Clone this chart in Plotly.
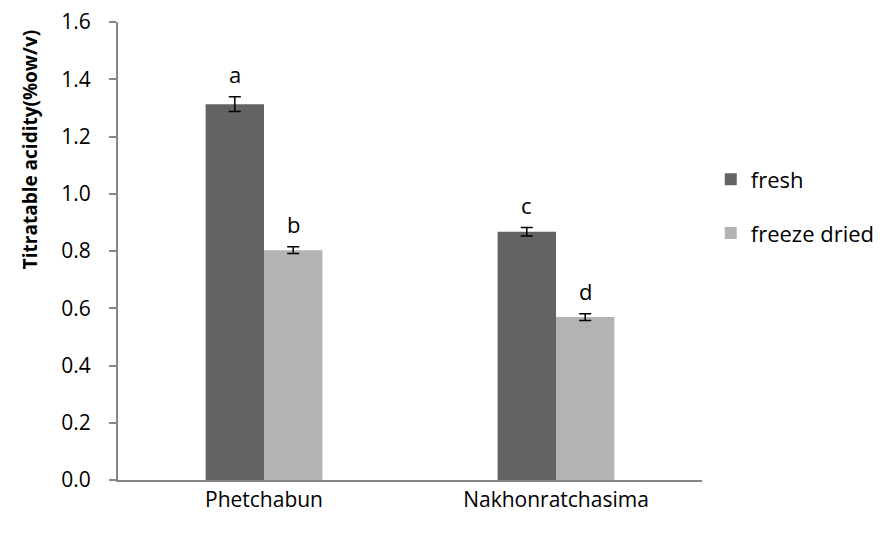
import plotly.graph_objects as go

categories = ["Phetchabun", "Nakhonratchasima"]
fresh = [1.313, 0.867]
fresh_err = [0.026, 0.015]
freeze_dried = [0.803, 0.569]
freeze_err = [0.012, 0.012]
fresh_letters = ["a", "c"]
freeze_letters = ["b", "d"]
y_title = "Titratable acidity(%ow/v)"

FONT = "Open Sans, Noto Sans, sans-serif"

fig = go.Figure()
fig.add_trace(go.Bar(
    name="fresh", x=categories, y=fresh, marker_color="#636363",
    marker_line_width=0, legendgroup="g1",
    error_y=dict(type="data", array=fresh_err, color="black", thickness=1.5, width=6),
))
fig.add_trace(go.Bar(
    name="freeze dried", x=categories, y=freeze_dried, marker_color="#b3b3b3",
    marker_line_width=0, legendgroup="g2",
    error_y=dict(type="data", array=freeze_err, color="black", thickness=1.5, width=6),
))

# letters above bars
for i, c in enumerate(categories):
    fig.add_annotation(x=c, y=fresh[i] + fresh_err[i], text=fresh_letters[i],
                       xshift=-29.5, yshift=6, yanchor="bottom", showarrow=False,
                       font=dict(family=FONT, size=22, color="black"))
    fig.add_annotation(x=c, y=freeze_dried[i] + freeze_err[i], text=freeze_letters[i],
                       xshift=29.5, yshift=6, yanchor="bottom", showarrow=False,
                       font=dict(family=FONT, size=22, color="black"))

# y-axis title (placed like the original, above centre)
fig.add_annotation(xref="paper", yref="paper", x=0, y=0.72, xshift=-88,
                   xanchor="center", yanchor="middle", textangle=-90,
                   text="<b>" + y_title + "</b>", showarrow=False,
                   font=dict(family=FONT, size=19, color="black"))

fig.update_layout(
    width=884, height=536,
    margin=dict(l=110, r=185, t=14, b=64),
    paper_bgcolor="white", plot_bgcolor="white",
    barmode="group", bargap=0.6, bargroupgap=0,
    font=dict(family=FONT, size=20, color="black"),
    showlegend=True,
    legend=dict(x=1.015, xanchor="left", y=0.597, yanchor="middle",
                traceorder="grouped", tracegroupgap=22,
                font=dict(family=FONT, size=22, color="black")),
    xaxis=dict(showline=True, linecolor="#868686", linewidth=2, automargin=False,
               ticks="", tickfont=dict(family=FONT, size=21), showgrid=False),
    yaxis=dict(range=[0, 1.6], dtick=0.2, tickformat=".1f", automargin=False,
               showline=True, linecolor="#868686", linewidth=2,
               ticks="outside", ticklen=7, tickcolor="#868686", tickwidth=1.5,
               ticklabelstandoff=14, ticklabeloverflow="allow",
               showgrid=False, zeroline=False,
               tickfont=dict(family=FONT, size=21)),
)

fig.write_html("out.html")
